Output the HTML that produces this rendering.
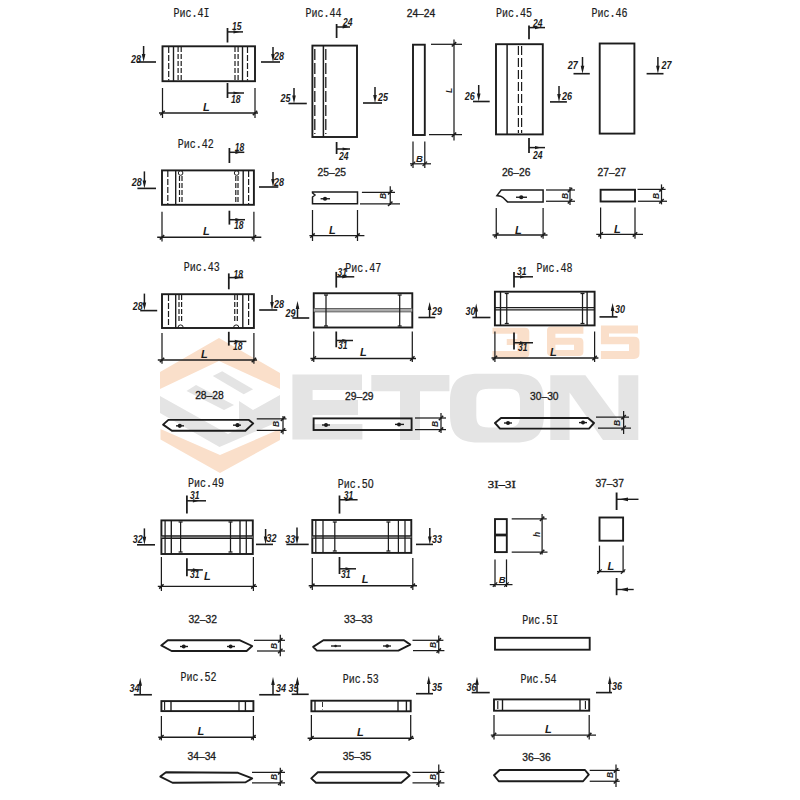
<!DOCTYPE html><html><head><meta charset="utf-8"><style>html,body{margin:0;padding:0;background:#fff;}svg{display:block}</style></head><body>
<svg width="800" height="800" viewBox="0 0 800 800">
<rect width="800" height="800" fill="#fff"/>
<polygon points="160,372 219,338 280,373 280,389 219,361 160,389" fill="#fadfca"/>
<polygon points="160.5,439.5 220,473 280,440 280,429 220,455 160.5,429" fill="#fadfca"/>
<polygon points="212.8,375.9 222.2,371.2 253.1,389.3 243.7,394.2" fill="#e4e4e4"/>
<polygon points="186.5,391 196,385 234,405 224,410" fill="#e4e4e4"/>
<polygon points="160,396 228,434 239,428 239,401 253,410 280,395 280,421 219.5,447 160,413" fill="#e4e4e4"/>
<path d="M292.4,374.6 H362 V390 H312.6 V400 H358 V415 H312.6 V424 H362.4 V439.5 H292.4 Z" fill="#e4e4e4"/>
<path d="M371.3,375 H449.4 V391.2 H420 V440 H400 V391.2 H371.3 Z" fill="#e4e4e4"/>
<path fill-rule="evenodd" d="M478,373.8 H516 C536,373.8 544,382 544,402 V414 C544,434 536,442.5 516,442.5 H478 C458,442.5 450,434 450,414 V402 C450,382 458,373.8 478,373.8 Z M489,388.8 H507 C517,388.8 520,392 520,401 V415 C520,424 517,427.5 507,427.5 H489 C479,427.5 476.3,424 476.3,415 V401 C476.3,392 479,388.8 489,388.8 Z" fill="#e4e4e4"/>
<path d="M550.3,375.3 H585.4 L618.4,420 V375.3 H638.3 V440 H603 L569.6,392.5 V440 H550.3 Z" fill="#e4e4e4"/>
<path d="M492.5,327.75 H525 Q529.3,327.75 529.3,332 V353.5 Q529.3,357.75 525,357.75 H492.5 V351 H517.3 V345 H506.75 V339 H517.3 V333.75 H492.5 Z" fill="#fadfca"/>
<path fill-rule="evenodd" d="M551,326.4 H583.4 V333.8 H555.4 V337.7 H579 Q583.4,337.7 583.4,342 V352 Q583.4,356 579,356 H551 Q547,356 547,352 V330.4 Q547,326.4 551,326.4 Z M555.4,344.7 V350 H574 V344.7 Z" fill="#fadfca"/>
<path d="M600.9,325.5 H638 V333.4 H609 V336.75 H634 Q639.5,336.75 639.5,342 V353.5 Q639.5,358.9 634,358.9 H600.9 V351 H629 V344.25 H600.9 Z" fill="#fadfca"/>
<text x="173.6" y="17" font-family="Liberation Mono" font-size="12.5" font-weight="normal" font-style="normal" text-anchor="start" fill="#1c1c1c" stroke="#1c1c1c" stroke-width="0.2" textLength="36" lengthAdjust="spacingAndGlyphs">Рис.4I</text>
<rect x="162.5" y="46.3" width="92.5" height="34.900000000000006" fill="none" stroke="#1c1c1c" stroke-width="1.9"/>
<line x1="168.7" y1="47" x2="168.7" y2="80.5" stroke="#1c1c1c" stroke-width="1.2" stroke-dasharray="6 2"/>
<line x1="173.5" y1="46.3" x2="173.5" y2="81.2" stroke="#1c1c1c" stroke-width="1.375"/>
<line x1="178.1" y1="47" x2="178.1" y2="80.5" stroke="#1c1c1c" stroke-width="1.2" stroke-dasharray="5 2"/>
<line x1="181.2" y1="47" x2="181.2" y2="80.5" stroke="#1c1c1c" stroke-width="1.2" stroke-dasharray="5 2"/>
<line x1="235" y1="47" x2="235" y2="80.5" stroke="#1c1c1c" stroke-width="1.2" stroke-dasharray="5 2"/>
<line x1="238.1" y1="47" x2="238.1" y2="80.5" stroke="#1c1c1c" stroke-width="1.2" stroke-dasharray="5 2"/>
<line x1="242.5" y1="46.3" x2="242.5" y2="81.2" stroke="#1c1c1c" stroke-width="1.375"/>
<line x1="247.5" y1="47" x2="247.5" y2="80.5" stroke="#1c1c1c" stroke-width="1.2" stroke-dasharray="6 2"/>
<line x1="227.5" y1="28" x2="227.5" y2="42.5" stroke="#1c1c1c" stroke-width="1.75"/>
<line x1="227.5" y1="31.9" x2="243" y2="31.9" stroke="#1c1c1c" stroke-width="1.5"/>
<polygon points="233.5,30.299999999999997 233.5,33.5 239.5,31.9" fill="#1c1c1c"/>
<text x="232" y="30" font-family="Liberation Sans" font-size="10" font-weight="bold" font-style="italic" text-anchor="start" fill="#1c1c1c" textLength="9.5" lengthAdjust="spacingAndGlyphs">15</text>
<line x1="227.5" y1="83" x2="227.5" y2="98" stroke="#1c1c1c" stroke-width="1.75"/>
<line x1="227.5" y1="93" x2="244" y2="93" stroke="#1c1c1c" stroke-width="1.5"/>
<polygon points="233.5,91.4 233.5,94.6 239.5,93" fill="#1c1c1c"/>
<text x="231" y="103" font-family="Liberation Sans" font-size="10" font-weight="bold" font-style="italic" text-anchor="start" fill="#1c1c1c" textLength="9.5" lengthAdjust="spacingAndGlyphs">18</text>
<line x1="143.6" y1="46" x2="143.6" y2="57" stroke="#1c1c1c" stroke-width="1.5"/>
<polygon points="141.79999999999998,54 145.4,54 143.6,62" fill="#1c1c1c"/>
<line x1="137" y1="62" x2="156" y2="62" stroke="#1c1c1c" stroke-width="1.625"/>
<text x="131" y="63" font-family="Liberation Sans" font-size="10.5" font-weight="bold" font-style="italic" text-anchor="start" fill="#1c1c1c" textLength="10" lengthAdjust="spacingAndGlyphs">28</text>
<line x1="273" y1="47" x2="273" y2="57" stroke="#1c1c1c" stroke-width="1.5"/>
<polygon points="271.2,54 274.8,54 273,62" fill="#1c1c1c"/>
<line x1="261" y1="62" x2="280" y2="62" stroke="#1c1c1c" stroke-width="1.625"/>
<text x="274" y="60" font-family="Liberation Sans" font-size="10.5" font-weight="bold" font-style="italic" text-anchor="start" fill="#1c1c1c" textLength="10" lengthAdjust="spacingAndGlyphs">28</text>
<line x1="159" y1="113" x2="258" y2="113" stroke="#1c1c1c" stroke-width="1.375"/>
<line x1="162.5" y1="88" x2="162.5" y2="118" stroke="#1c1c1c" stroke-width="1.25"/>
<line x1="255" y1="88" x2="255" y2="118" stroke="#1c1c1c" stroke-width="1.25"/>
<line x1="160.3" y1="115.2" x2="164.7" y2="110.8" stroke="#1c1c1c" stroke-width="1.5"/>
<line x1="252.8" y1="115.2" x2="257.2" y2="110.8" stroke="#1c1c1c" stroke-width="1.5"/>
<text x="203" y="111" font-family="Liberation Sans" font-size="11" font-weight="bold" font-style="italic" text-anchor="start" fill="#1c1c1c" >L</text>
<text x="305.6" y="17" font-family="Liberation Mono" font-size="12.5" font-weight="normal" font-style="normal" text-anchor="start" fill="#1c1c1c" stroke="#1c1c1c" stroke-width="0.2" textLength="36" lengthAdjust="spacingAndGlyphs">Рис.44</text>
<rect x="312.4" y="45.6" width="44.60000000000002" height="91.4" fill="none" stroke="#1c1c1c" stroke-width="1.9"/>
<line x1="314.8" y1="49" x2="314.8" y2="134" stroke="#1c1c1c" stroke-width="1.3" stroke-dasharray="11 3"/>
<line x1="323.4" y1="46" x2="323.4" y2="137" stroke="#1c1c1c" stroke-width="1.5"/>
<line x1="325.8" y1="49" x2="325.8" y2="134" stroke="#1c1c1c" stroke-width="1.3" stroke-dasharray="11 3"/>
<line x1="336.6" y1="24" x2="336.6" y2="38" stroke="#1c1c1c" stroke-width="1.75"/>
<line x1="336.6" y1="27" x2="350" y2="27" stroke="#1c1c1c" stroke-width="1.5"/>
<polygon points="342.6,25.4 342.6,28.6 348.6,27" fill="#1c1c1c"/>
<text x="343" y="26" font-family="Liberation Sans" font-size="10" font-weight="bold" font-style="italic" text-anchor="start" fill="#1c1c1c" textLength="9.5" lengthAdjust="spacingAndGlyphs">24</text>
<line x1="336.6" y1="142" x2="336.6" y2="154" stroke="#1c1c1c" stroke-width="1.75"/>
<line x1="336.6" y1="149" x2="350" y2="149" stroke="#1c1c1c" stroke-width="1.5"/>
<polygon points="342.6,147.4 342.6,150.6 348.6,149" fill="#1c1c1c"/>
<text x="339" y="160" font-family="Liberation Sans" font-size="10" font-weight="bold" font-style="italic" text-anchor="start" fill="#1c1c1c" textLength="9.5" lengthAdjust="spacingAndGlyphs">24</text>
<line x1="294" y1="88" x2="294" y2="98.5" stroke="#1c1c1c" stroke-width="1.5"/>
<polygon points="292.2,95.5 295.8,95.5 294,103.5" fill="#1c1c1c"/>
<line x1="288.4" y1="103.5" x2="306.8" y2="103.5" stroke="#1c1c1c" stroke-width="1.625"/>
<text x="280.5" y="102" font-family="Liberation Sans" font-size="10.5" font-weight="bold" font-style="italic" text-anchor="start" fill="#1c1c1c" textLength="10" lengthAdjust="spacingAndGlyphs">25</text>
<line x1="375" y1="87" x2="375" y2="98" stroke="#1c1c1c" stroke-width="1.5"/>
<polygon points="373.2,95 376.8,95 375,103" fill="#1c1c1c"/>
<line x1="363" y1="103" x2="382" y2="103" stroke="#1c1c1c" stroke-width="1.625"/>
<text x="378" y="101" font-family="Liberation Sans" font-size="10.5" font-weight="bold" font-style="italic" text-anchor="start" fill="#1c1c1c" textLength="10" lengthAdjust="spacingAndGlyphs">25</text>
<text x="406.7" y="17" font-family="Liberation Sans" font-size="10.290000000000001" font-weight="normal" font-style="normal" text-anchor="start" fill="#1c1c1c" stroke="#1c1c1c" stroke-width="0.3">24–24</text>
<rect x="413" y="44.7" width="11.800000000000011" height="90.3" fill="none" stroke="#1c1c1c" stroke-width="1.9"/>
<line x1="454" y1="39.4" x2="454" y2="140.4" stroke="#1c1c1c" stroke-width="1.25"/>
<line x1="431" y1="44.3" x2="462" y2="44.3" stroke="#1c1c1c" stroke-width="1.25"/>
<line x1="429" y1="134.7" x2="462" y2="134.7" stroke="#1c1c1c" stroke-width="1.25"/>
<line x1="451.8" y1="46.5" x2="456.2" y2="42.099999999999994" stroke="#1c1c1c" stroke-width="1.5"/>
<line x1="451.8" y1="136.89999999999998" x2="456.2" y2="132.5" stroke="#1c1c1c" stroke-width="1.5"/>
<text x="452" y="93" font-family="Liberation Sans" font-size="8.5" font-weight="bold" font-style="italic" text-anchor="start" fill="#1c1c1c" transform="rotate(-90 452 93)">L</text>
<line x1="413" y1="141.5" x2="413" y2="168" stroke="#1c1c1c" stroke-width="1.25"/>
<line x1="424.8" y1="141.5" x2="424.8" y2="168" stroke="#1c1c1c" stroke-width="1.25"/>
<line x1="410" y1="163.8" x2="431" y2="163.8" stroke="#1c1c1c" stroke-width="1.25"/>
<line x1="410.8" y1="166.0" x2="415.2" y2="161.60000000000002" stroke="#1c1c1c" stroke-width="1.25"/>
<line x1="422.6" y1="166.0" x2="427.0" y2="161.60000000000002" stroke="#1c1c1c" stroke-width="1.25"/>
<text x="416" y="162" font-family="Liberation Sans" font-size="9.5" font-weight="bold" font-style="italic" text-anchor="start" fill="#1c1c1c" >B</text>
<text x="496" y="17" font-family="Liberation Mono" font-size="12.5" font-weight="normal" font-style="normal" text-anchor="start" fill="#1c1c1c" stroke="#1c1c1c" stroke-width="0.2" textLength="36" lengthAdjust="spacingAndGlyphs">Рис.45</text>
<rect x="496" y="44.2" width="46.799999999999955" height="90.2" fill="none" stroke="#1c1c1c" stroke-width="1.9"/>
<line x1="507.1" y1="44.2" x2="507.1" y2="134.4" stroke="#1c1c1c" stroke-width="1.5"/>
<line x1="518.4" y1="46" x2="518.4" y2="133" stroke="#1c1c1c" stroke-width="1.2" stroke-dasharray="9 3"/>
<line x1="521.6" y1="46" x2="521.6" y2="133" stroke="#1c1c1c" stroke-width="1.2" stroke-dasharray="9 3"/>
<line x1="529" y1="25.5" x2="529" y2="39.3" stroke="#1c1c1c" stroke-width="1.75"/>
<line x1="529" y1="27.6" x2="545" y2="27.6" stroke="#1c1c1c" stroke-width="1.5"/>
<polygon points="535,26.0 535,29.200000000000003 541,27.6" fill="#1c1c1c"/>
<text x="533" y="26.5" font-family="Liberation Sans" font-size="10" font-weight="bold" font-style="italic" text-anchor="start" fill="#1c1c1c" textLength="9.5" lengthAdjust="spacingAndGlyphs">24</text>
<line x1="529" y1="138" x2="529" y2="153" stroke="#1c1c1c" stroke-width="1.75"/>
<line x1="529" y1="147.6" x2="545" y2="147.6" stroke="#1c1c1c" stroke-width="1.5"/>
<polygon points="535,146.0 535,149.2 541,147.6" fill="#1c1c1c"/>
<text x="533" y="159" font-family="Liberation Sans" font-size="10" font-weight="bold" font-style="italic" text-anchor="start" fill="#1c1c1c" textLength="9.5" lengthAdjust="spacingAndGlyphs">24</text>
<line x1="478.7" y1="85" x2="478.7" y2="96.5" stroke="#1c1c1c" stroke-width="1.5"/>
<polygon points="476.9,93.5 480.5,93.5 478.7,101.5" fill="#1c1c1c"/>
<line x1="473" y1="101.5" x2="489.7" y2="101.5" stroke="#1c1c1c" stroke-width="1.625"/>
<text x="464.7" y="100" font-family="Liberation Sans" font-size="10.5" font-weight="bold" font-style="italic" text-anchor="start" fill="#1c1c1c" textLength="10" lengthAdjust="spacingAndGlyphs">26</text>
<line x1="559" y1="86" x2="559" y2="96.9" stroke="#1c1c1c" stroke-width="1.5"/>
<polygon points="557.2,93.9 560.8,93.9 559,101.9" fill="#1c1c1c"/>
<line x1="550" y1="101.9" x2="566.9" y2="101.9" stroke="#1c1c1c" stroke-width="1.625"/>
<text x="562" y="100" font-family="Liberation Sans" font-size="10.5" font-weight="bold" font-style="italic" text-anchor="start" fill="#1c1c1c" textLength="10" lengthAdjust="spacingAndGlyphs">26</text>
<text x="591.6" y="17" font-family="Liberation Mono" font-size="12.5" font-weight="normal" font-style="normal" text-anchor="start" fill="#1c1c1c" stroke="#1c1c1c" stroke-width="0.2" textLength="36" lengthAdjust="spacingAndGlyphs">Рис.46</text>
<rect x="599.7" y="43.5" width="34.69999999999993" height="90.1" fill="none" stroke="#1c1c1c" stroke-width="1.9"/>
<line x1="582.5" y1="57" x2="582.5" y2="68.7" stroke="#1c1c1c" stroke-width="1.5"/>
<polygon points="580.7,65.7 584.3,65.7 582.5,73.7" fill="#1c1c1c"/>
<line x1="573.5" y1="73.7" x2="589.8" y2="73.7" stroke="#1c1c1c" stroke-width="1.625"/>
<text x="567.8" y="69.4" font-family="Liberation Sans" font-size="10.5" font-weight="bold" font-style="italic" text-anchor="start" fill="#1c1c1c" textLength="10" lengthAdjust="spacingAndGlyphs">27</text>
<line x1="657.9" y1="57" x2="657.9" y2="68.7" stroke="#1c1c1c" stroke-width="1.5"/>
<polygon points="656.1,65.7 659.6999999999999,65.7 657.9,73.7" fill="#1c1c1c"/>
<line x1="646.6" y1="73.7" x2="663.5" y2="73.7" stroke="#1c1c1c" stroke-width="1.625"/>
<text x="661.6" y="68.5" font-family="Liberation Sans" font-size="10.5" font-weight="bold" font-style="italic" text-anchor="start" fill="#1c1c1c" textLength="10" lengthAdjust="spacingAndGlyphs">27</text>
<text x="177.8" y="148" font-family="Liberation Mono" font-size="12.5" font-weight="normal" font-style="normal" text-anchor="start" fill="#1c1c1c" stroke="#1c1c1c" stroke-width="0.2" textLength="36" lengthAdjust="spacingAndGlyphs">Рис.42</text>
<rect x="162" y="170.4" width="91.9" height="34.400000000000006" fill="none" stroke="#1c1c1c" stroke-width="1.9"/>
<line x1="167.8" y1="171" x2="167.8" y2="204" stroke="#1c1c1c" stroke-width="1.2" stroke-dasharray="6 2"/>
<line x1="175.7" y1="170.4" x2="175.7" y2="204.8" stroke="#1c1c1c" stroke-width="1.375"/>
<line x1="179.5" y1="176" x2="179.5" y2="204" stroke="#1c1c1c" stroke-width="1.2" stroke-dasharray="5 2"/>
<line x1="182" y1="176" x2="182" y2="204" stroke="#1c1c1c" stroke-width="1.2" stroke-dasharray="5 2"/>
<circle cx="180.6" cy="173" r="2.3" fill="none" stroke="#1c1c1c" stroke-width="1"/>
<line x1="235.8" y1="176" x2="235.8" y2="204" stroke="#1c1c1c" stroke-width="1.2" stroke-dasharray="5 2"/>
<line x1="238" y1="176" x2="238" y2="204" stroke="#1c1c1c" stroke-width="1.2" stroke-dasharray="5 2"/>
<circle cx="236.6" cy="173" r="2.3" fill="none" stroke="#1c1c1c" stroke-width="1"/>
<line x1="243.2" y1="170.4" x2="243.2" y2="204.8" stroke="#1c1c1c" stroke-width="1.375"/>
<line x1="248.6" y1="171" x2="248.6" y2="204" stroke="#1c1c1c" stroke-width="1.2" stroke-dasharray="6 2"/>
<line x1="229.4" y1="148" x2="229.4" y2="163" stroke="#1c1c1c" stroke-width="1.75"/>
<line x1="229.4" y1="152.3" x2="244.3" y2="152.3" stroke="#1c1c1c" stroke-width="1.5"/>
<polygon points="235.4,150.70000000000002 235.4,153.9 241.4,152.3" fill="#1c1c1c"/>
<text x="234.7" y="151" font-family="Liberation Sans" font-size="10" font-weight="bold" font-style="italic" text-anchor="start" fill="#1c1c1c" textLength="9.5" lengthAdjust="spacingAndGlyphs">18</text>
<line x1="229.4" y1="210.7" x2="229.4" y2="224.6" stroke="#1c1c1c" stroke-width="1.75"/>
<line x1="229.4" y1="219.7" x2="245" y2="219.7" stroke="#1c1c1c" stroke-width="1.5"/>
<polygon points="235.4,218.1 235.4,221.29999999999998 241.4,219.7" fill="#1c1c1c"/>
<text x="234" y="228.5" font-family="Liberation Sans" font-size="10" font-weight="bold" font-style="italic" text-anchor="start" fill="#1c1c1c" textLength="9.5" lengthAdjust="spacingAndGlyphs">18</text>
<line x1="144.4" y1="171.4" x2="144.4" y2="183.4" stroke="#1c1c1c" stroke-width="1.5"/>
<polygon points="142.6,180.4 146.20000000000002,180.4 144.4,188.4" fill="#1c1c1c"/>
<line x1="137.4" y1="188.4" x2="156" y2="188.4" stroke="#1c1c1c" stroke-width="1.625"/>
<text x="131.7" y="186.3" font-family="Liberation Sans" font-size="10.5" font-weight="bold" font-style="italic" text-anchor="start" fill="#1c1c1c" textLength="10" lengthAdjust="spacingAndGlyphs">28</text>
<line x1="273" y1="172" x2="273" y2="182" stroke="#1c1c1c" stroke-width="1.5"/>
<polygon points="271.2,179 274.8,179 273,187" fill="#1c1c1c"/>
<line x1="259" y1="187" x2="278.3" y2="187" stroke="#1c1c1c" stroke-width="1.625"/>
<text x="274" y="186" font-family="Liberation Sans" font-size="10.5" font-weight="bold" font-style="italic" text-anchor="start" fill="#1c1c1c" textLength="10" lengthAdjust="spacingAndGlyphs">28</text>
<line x1="157.2" y1="237.3" x2="261.3" y2="237.3" stroke="#1c1c1c" stroke-width="1.375"/>
<line x1="162" y1="211.8" x2="162" y2="241.6" stroke="#1c1c1c" stroke-width="1.25"/>
<line x1="253.9" y1="211.8" x2="253.9" y2="241.6" stroke="#1c1c1c" stroke-width="1.25"/>
<line x1="159.8" y1="239.5" x2="164.2" y2="235.10000000000002" stroke="#1c1c1c" stroke-width="1.5"/>
<line x1="251.70000000000002" y1="239.5" x2="256.1" y2="235.10000000000002" stroke="#1c1c1c" stroke-width="1.5"/>
<text x="203" y="235" font-family="Liberation Sans" font-size="11" font-weight="bold" font-style="italic" text-anchor="start" fill="#1c1c1c" >L</text>
<text x="317.5" y="175.5" font-family="Liberation Sans" font-size="10.290000000000001" font-weight="normal" font-style="normal" text-anchor="start" fill="#1c1c1c" stroke="#1c1c1c" stroke-width="0.3">25–25</text>
<path d="M312.5,191.9 H357.5 V203.75 H312.5 V197 L315,195 L312.5,193 Z" fill="none" stroke="#1c1c1c" stroke-width="1.5"/>
<line x1="320.6" y1="198.75" x2="330" y2="198.75" stroke="#1c1c1c" stroke-width="1.375"/>
<circle cx="325" cy="198.75" r="2.1" fill="#1c1c1c"/>
<line x1="390.25" y1="186.25" x2="390.25" y2="205" stroke="#1c1c1c" stroke-width="1.25"/>
<line x1="361.9" y1="192.25" x2="395" y2="192.25" stroke="#1c1c1c" stroke-width="1.25"/>
<line x1="360" y1="203.75" x2="400" y2="203.75" stroke="#1c1c1c" stroke-width="1.25"/>
<line x1="388.05" y1="194.45" x2="392.45" y2="190.05" stroke="#1c1c1c" stroke-width="1.5"/>
<line x1="388.05" y1="205.95" x2="392.45" y2="201.55" stroke="#1c1c1c" stroke-width="1.5"/>
<text x="386" y="199" font-family="Liberation Sans" font-size="8.5" font-weight="bold" font-style="italic" text-anchor="start" fill="#1c1c1c" transform="rotate(-90 386 199)">B</text>
<line x1="309.4" y1="235.6" x2="364.4" y2="235.6" stroke="#1c1c1c" stroke-width="1.375"/>
<line x1="312.5" y1="210" x2="312.5" y2="241" stroke="#1c1c1c" stroke-width="1.25"/>
<line x1="357.5" y1="210" x2="357.5" y2="241" stroke="#1c1c1c" stroke-width="1.25"/>
<line x1="310.3" y1="237.79999999999998" x2="314.7" y2="233.4" stroke="#1c1c1c" stroke-width="1.5"/>
<line x1="355.3" y1="237.79999999999998" x2="359.7" y2="233.4" stroke="#1c1c1c" stroke-width="1.5"/>
<text x="329" y="233.5" font-family="Liberation Sans" font-size="11" font-weight="bold" font-style="italic" text-anchor="start" fill="#1c1c1c" >L</text>
<text x="501.9" y="175.5" font-family="Liberation Sans" font-size="10.290000000000001" font-weight="normal" font-style="normal" text-anchor="start" fill="#1c1c1c" stroke="#1c1c1c" stroke-width="0.3">26–26</text>
<path d="M501.25,190 H543.1 V201.9 H507.5 L503,197.5 L500.6,196.2 L496.9,195.6 Z" fill="none" stroke="#1c1c1c" stroke-width="1.5"/>
<line x1="516" y1="197.25" x2="527" y2="197.25" stroke="#1c1c1c" stroke-width="1.375"/>
<circle cx="521.25" cy="197.25" r="2.1" fill="#1c1c1c"/>
<line x1="570" y1="186.9" x2="570" y2="205" stroke="#1c1c1c" stroke-width="1.25"/>
<line x1="546" y1="190" x2="575" y2="190" stroke="#1c1c1c" stroke-width="1.25"/>
<line x1="546" y1="201.25" x2="575" y2="201.25" stroke="#1c1c1c" stroke-width="1.25"/>
<line x1="567.8" y1="192.2" x2="572.2" y2="187.8" stroke="#1c1c1c" stroke-width="1.5"/>
<line x1="567.8" y1="203.45" x2="572.2" y2="199.05" stroke="#1c1c1c" stroke-width="1.5"/>
<text x="568" y="199" font-family="Liberation Sans" font-size="8.5" font-weight="bold" font-style="italic" text-anchor="start" fill="#1c1c1c" transform="rotate(-90 568 199)">B</text>
<line x1="492.5" y1="235" x2="547.5" y2="235" stroke="#1c1c1c" stroke-width="1.375"/>
<line x1="496.25" y1="208" x2="496.25" y2="238.75" stroke="#1c1c1c" stroke-width="1.25"/>
<line x1="543.1" y1="208" x2="543.1" y2="238.75" stroke="#1c1c1c" stroke-width="1.25"/>
<line x1="494.05" y1="237.2" x2="498.45" y2="232.8" stroke="#1c1c1c" stroke-width="1.5"/>
<line x1="540.9" y1="237.2" x2="545.3000000000001" y2="232.8" stroke="#1c1c1c" stroke-width="1.5"/>
<text x="515" y="233.5" font-family="Liberation Sans" font-size="11" font-weight="bold" font-style="italic" text-anchor="start" fill="#1c1c1c" >L</text>
<text x="597.5" y="175.5" font-family="Liberation Sans" font-size="10.290000000000001" font-weight="normal" font-style="normal" text-anchor="start" fill="#1c1c1c" stroke="#1c1c1c" stroke-width="0.3">27–27</text>
<rect x="600.6" y="189.75" width="34.39999999999998" height="11.75" fill="none" stroke="#1c1c1c" stroke-width="1.9"/>
<line x1="661.5" y1="184.4" x2="661.5" y2="204.4" stroke="#1c1c1c" stroke-width="1.25"/>
<line x1="637.5" y1="189.4" x2="665.6" y2="189.4" stroke="#1c1c1c" stroke-width="1.25"/>
<line x1="638" y1="201.25" x2="667" y2="201.25" stroke="#1c1c1c" stroke-width="1.25"/>
<line x1="659.3" y1="191.6" x2="663.7" y2="187.20000000000002" stroke="#1c1c1c" stroke-width="1.5"/>
<line x1="659.3" y1="203.45" x2="663.7" y2="199.05" stroke="#1c1c1c" stroke-width="1.5"/>
<text x="659" y="199" font-family="Liberation Sans" font-size="8.5" font-weight="bold" font-style="italic" text-anchor="start" fill="#1c1c1c" transform="rotate(-90 659 199)">B</text>
<line x1="596.25" y1="234.4" x2="643" y2="234.4" stroke="#1c1c1c" stroke-width="1.375"/>
<line x1="600.6" y1="207.5" x2="600.6" y2="238.75" stroke="#1c1c1c" stroke-width="1.25"/>
<line x1="635" y1="207.5" x2="635" y2="238.75" stroke="#1c1c1c" stroke-width="1.25"/>
<line x1="598.4" y1="236.6" x2="602.8000000000001" y2="232.20000000000002" stroke="#1c1c1c" stroke-width="1.5"/>
<line x1="632.8" y1="236.6" x2="637.2" y2="232.20000000000002" stroke="#1c1c1c" stroke-width="1.5"/>
<text x="614" y="232.5" font-family="Liberation Sans" font-size="11" font-weight="bold" font-style="italic" text-anchor="start" fill="#1c1c1c" >L</text>
<text x="183.75" y="271.25" font-family="Liberation Mono" font-size="12.5" font-weight="normal" font-style="normal" text-anchor="start" fill="#1c1c1c" stroke="#1c1c1c" stroke-width="0.2" textLength="36" lengthAdjust="spacingAndGlyphs">Рис.43</text>
<rect x="162" y="294.2" width="91.9" height="33.80000000000001" fill="none" stroke="#1c1c1c" stroke-width="1.9"/>
<line x1="168.5" y1="295" x2="168.5" y2="327" stroke="#1c1c1c" stroke-width="1.2" stroke-dasharray="6 2"/>
<line x1="175.7" y1="294.2" x2="175.7" y2="328" stroke="#1c1c1c" stroke-width="1.375"/>
<line x1="179" y1="295" x2="179" y2="322" stroke="#1c1c1c" stroke-width="1.2" stroke-dasharray="5 2"/>
<line x1="181.6" y1="295" x2="181.6" y2="322" stroke="#1c1c1c" stroke-width="1.2" stroke-dasharray="5 2"/>
<path d="M178,327.5 A2.6,2.6 0 0 1 183.2,327.5" fill="none" stroke="#1c1c1c" stroke-width="1"/>
<line x1="234.75" y1="295" x2="234.75" y2="322" stroke="#1c1c1c" stroke-width="1.2" stroke-dasharray="5 2"/>
<line x1="237.3" y1="295" x2="237.3" y2="322" stroke="#1c1c1c" stroke-width="1.2" stroke-dasharray="5 2"/>
<path d="M233.6,327.5 A2.6,2.6 0 0 1 238.8,327.5" fill="none" stroke="#1c1c1c" stroke-width="1"/>
<line x1="242.8" y1="294.2" x2="242.8" y2="328" stroke="#1c1c1c" stroke-width="1.375"/>
<line x1="248.6" y1="295" x2="248.6" y2="327" stroke="#1c1c1c" stroke-width="1.2" stroke-dasharray="6 2"/>
<line x1="228.8" y1="273.4" x2="228.8" y2="289.3" stroke="#1c1c1c" stroke-width="1.75"/>
<line x1="228.8" y1="277.6" x2="243.25" y2="277.6" stroke="#1c1c1c" stroke-width="1.5"/>
<polygon points="234.8,276.0 234.8,279.20000000000005 240.8,277.6" fill="#1c1c1c"/>
<text x="233.5" y="277.6" font-family="Liberation Sans" font-size="10" font-weight="bold" font-style="italic" text-anchor="start" fill="#1c1c1c" textLength="9.5" lengthAdjust="spacingAndGlyphs">18</text>
<line x1="228.8" y1="331.8" x2="228.8" y2="345.6" stroke="#1c1c1c" stroke-width="1.75"/>
<line x1="228.8" y1="341.4" x2="246.4" y2="341.4" stroke="#1c1c1c" stroke-width="1.5"/>
<polygon points="234.8,339.79999999999995 234.8,343.0 240.8,341.4" fill="#1c1c1c"/>
<text x="233" y="350" font-family="Liberation Sans" font-size="10" font-weight="bold" font-style="italic" text-anchor="start" fill="#1c1c1c" textLength="9.5" lengthAdjust="spacingAndGlyphs">18</text>
<line x1="144.4" y1="293.6" x2="144.4" y2="305.6" stroke="#1c1c1c" stroke-width="1.5"/>
<polygon points="142.6,302.6 146.20000000000002,302.6 144.4,310.6" fill="#1c1c1c"/>
<line x1="140.2" y1="310.6" x2="157.2" y2="310.6" stroke="#1c1c1c" stroke-width="1.625"/>
<text x="132.75" y="309.5" font-family="Liberation Sans" font-size="10.5" font-weight="bold" font-style="italic" text-anchor="start" fill="#1c1c1c" textLength="10" lengthAdjust="spacingAndGlyphs">28</text>
<line x1="272" y1="295" x2="272" y2="305" stroke="#1c1c1c" stroke-width="1.5"/>
<polygon points="270.2,302 273.8,302 272,310" fill="#1c1c1c"/>
<line x1="259.2" y1="310" x2="277.25" y2="310" stroke="#1c1c1c" stroke-width="1.625"/>
<text x="274" y="308" font-family="Liberation Sans" font-size="10.5" font-weight="bold" font-style="italic" text-anchor="start" fill="#1c1c1c" textLength="10" lengthAdjust="spacingAndGlyphs">28</text>
<line x1="157.8" y1="360" x2="257" y2="360" stroke="#1c1c1c" stroke-width="1.375"/>
<line x1="162" y1="332.9" x2="162" y2="363.7" stroke="#1c1c1c" stroke-width="1.25"/>
<line x1="253.9" y1="332.9" x2="253.9" y2="363.7" stroke="#1c1c1c" stroke-width="1.25"/>
<line x1="159.8" y1="362.2" x2="164.2" y2="357.8" stroke="#1c1c1c" stroke-width="1.5"/>
<line x1="251.70000000000002" y1="362.2" x2="256.1" y2="357.8" stroke="#1c1c1c" stroke-width="1.5"/>
<text x="201" y="357.5" font-family="Liberation Sans" font-size="11" font-weight="bold" font-style="italic" text-anchor="start" fill="#1c1c1c" >L</text>
<text x="345.25" y="271.9" font-family="Liberation Mono" font-size="12.5" font-weight="normal" font-style="normal" text-anchor="start" fill="#1c1c1c" stroke="#1c1c1c" stroke-width="0.2" textLength="36" lengthAdjust="spacingAndGlyphs">Рис.47</text>
<rect x="313.75" y="293.25" width="98.55000000000001" height="34.25" fill="none" stroke="#1c1c1c" stroke-width="1.9"/>
<line x1="313.75" y1="308.5" x2="412.3" y2="308.5" stroke="#1c1c1c" stroke-width="1.25"/>
<line x1="313.75" y1="311.7" x2="412.3" y2="311.7" stroke="#1c1c1c" stroke-width="1.25"/>
<rect x="313.75" y="308.5" width="98.5" height="3.2" fill="#aaa"/>
<line x1="326" y1="295" x2="326" y2="326" stroke="#1c1c1c" stroke-width="1.25"/>
<line x1="324" y1="295" x2="328" y2="295" stroke="#1c1c1c" stroke-width="1.25"/>
<line x1="324" y1="326" x2="328" y2="326" stroke="#1c1c1c" stroke-width="1.25"/>
<line x1="399.7" y1="295" x2="399.7" y2="326" stroke="#1c1c1c" stroke-width="1.25"/>
<line x1="397.7" y1="295" x2="401.7" y2="295" stroke="#1c1c1c" stroke-width="1.25"/>
<line x1="397.7" y1="326" x2="401.7" y2="326" stroke="#1c1c1c" stroke-width="1.25"/>
<line x1="336.25" y1="271.9" x2="336.25" y2="287.6" stroke="#1c1c1c" stroke-width="1.75"/>
<line x1="336.25" y1="276.8" x2="354.25" y2="276.8" stroke="#1c1c1c" stroke-width="1.5"/>
<polygon points="342.25,275.2 342.25,278.40000000000003 348.25,276.8" fill="#1c1c1c"/>
<text x="337.4" y="276" font-family="Liberation Sans" font-size="10" font-weight="bold" font-style="italic" text-anchor="start" fill="#1c1c1c" textLength="9.5" lengthAdjust="spacingAndGlyphs">31</text>
<line x1="336.25" y1="331.5" x2="336.25" y2="347.25" stroke="#1c1c1c" stroke-width="1.75"/>
<line x1="336.25" y1="340.5" x2="353" y2="340.5" stroke="#1c1c1c" stroke-width="1.5"/>
<polygon points="342.25,338.9 342.25,342.1 348.25,340.5" fill="#1c1c1c"/>
<text x="338" y="349" font-family="Liberation Sans" font-size="10" font-weight="bold" font-style="italic" text-anchor="start" fill="#1c1c1c" textLength="9.5" lengthAdjust="spacingAndGlyphs">31</text>
<line x1="297.5" y1="306" x2="297.5" y2="318" stroke="#1c1c1c" stroke-width="1.5"/>
<polygon points="295.7,309 299.3,309 297.5,301" fill="#1c1c1c"/>
<line x1="292.4" y1="318" x2="309.25" y2="318" stroke="#1c1c1c" stroke-width="1.625"/>
<text x="285.6" y="317" font-family="Liberation Sans" font-size="10.5" font-weight="bold" font-style="italic" text-anchor="start" fill="#1c1c1c" textLength="10" lengthAdjust="spacingAndGlyphs">29</text>
<line x1="429.6" y1="307" x2="429.6" y2="317.5" stroke="#1c1c1c" stroke-width="1.5"/>
<polygon points="427.8,310 431.40000000000003,310 429.6,302" fill="#1c1c1c"/>
<line x1="418.4" y1="317.5" x2="435.25" y2="317.5" stroke="#1c1c1c" stroke-width="1.625"/>
<text x="432" y="315" font-family="Liberation Sans" font-size="10.5" font-weight="bold" font-style="italic" text-anchor="start" fill="#1c1c1c" textLength="10" lengthAdjust="spacingAndGlyphs">29</text>
<line x1="310.4" y1="358.5" x2="416" y2="358.5" stroke="#1c1c1c" stroke-width="1.375"/>
<line x1="313.75" y1="331.5" x2="313.75" y2="362" stroke="#1c1c1c" stroke-width="1.25"/>
<line x1="412.3" y1="331.5" x2="412.3" y2="362" stroke="#1c1c1c" stroke-width="1.25"/>
<line x1="311.55" y1="360.7" x2="315.95" y2="356.3" stroke="#1c1c1c" stroke-width="1.5"/>
<line x1="410.1" y1="360.7" x2="414.5" y2="356.3" stroke="#1c1c1c" stroke-width="1.5"/>
<text x="360" y="356" font-family="Liberation Sans" font-size="11" font-weight="bold" font-style="italic" text-anchor="start" fill="#1c1c1c" >L</text>
<text x="536.5" y="272" font-family="Liberation Mono" font-size="12.5" font-weight="normal" font-style="normal" text-anchor="start" fill="#1c1c1c" stroke="#1c1c1c" stroke-width="0.2" textLength="36" lengthAdjust="spacingAndGlyphs">Рис.48</text>
<rect x="494.9" y="291.7" width="99.70000000000005" height="33.69999999999999" fill="none" stroke="#1c1c1c" stroke-width="1.9"/>
<line x1="500.5" y1="291.7" x2="500.5" y2="325.4" stroke="#1c1c1c" stroke-width="1.375"/>
<line x1="587.1" y1="291.7" x2="587.1" y2="325.4" stroke="#1c1c1c" stroke-width="1.375"/>
<line x1="506.75" y1="293.5" x2="506.75" y2="323.5" stroke="#1c1c1c" stroke-width="1.25"/>
<line x1="504.75" y1="293.5" x2="508.75" y2="293.5" stroke="#1c1c1c" stroke-width="1.25"/>
<line x1="504.75" y1="323.5" x2="508.75" y2="323.5" stroke="#1c1c1c" stroke-width="1.25"/>
<line x1="582.5" y1="293.5" x2="582.5" y2="323.5" stroke="#1c1c1c" stroke-width="1.25"/>
<line x1="580.5" y1="293.5" x2="584.5" y2="293.5" stroke="#1c1c1c" stroke-width="1.25"/>
<line x1="580.5" y1="323.5" x2="584.5" y2="323.5" stroke="#1c1c1c" stroke-width="1.25"/>
<line x1="494.9" y1="307.5" x2="594.6" y2="307.5" stroke="#1c1c1c" stroke-width="1.25"/>
<line x1="494.9" y1="309.9" x2="594.6" y2="309.9" stroke="#1c1c1c" stroke-width="1.25"/>
<line x1="514" y1="272" x2="514" y2="287.6" stroke="#1c1c1c" stroke-width="1.75"/>
<line x1="514" y1="276.8" x2="533" y2="276.8" stroke="#1c1c1c" stroke-width="1.5"/>
<polygon points="520,275.2 520,278.40000000000003 526,276.8" fill="#1c1c1c"/>
<text x="517" y="275" font-family="Liberation Sans" font-size="10" font-weight="bold" font-style="italic" text-anchor="start" fill="#1c1c1c" textLength="9.5" lengthAdjust="spacingAndGlyphs">31</text>
<line x1="514" y1="332.6" x2="514" y2="349.5" stroke="#1c1c1c" stroke-width="1.75"/>
<line x1="514" y1="342.75" x2="533" y2="342.75" stroke="#1c1c1c" stroke-width="1.5"/>
<polygon points="520,341.15 520,344.35 526,342.75" fill="#1c1c1c"/>
<text x="518" y="351" font-family="Liberation Sans" font-size="10" font-weight="bold" font-style="italic" text-anchor="start" fill="#1c1c1c" textLength="9.5" lengthAdjust="spacingAndGlyphs">31</text>
<line x1="476.2" y1="308.4" x2="476.2" y2="317.5" stroke="#1c1c1c" stroke-width="1.5"/>
<polygon points="474.4,311.4 478.0,311.4 476.2,303.4" fill="#1c1c1c"/>
<line x1="472.4" y1="317.5" x2="490.4" y2="317.5" stroke="#1c1c1c" stroke-width="1.625"/>
<text x="465.6" y="315" font-family="Liberation Sans" font-size="10.5" font-weight="bold" font-style="italic" text-anchor="start" fill="#1c1c1c" textLength="10" lengthAdjust="spacingAndGlyphs">30</text>
<line x1="612.6" y1="308" x2="612.6" y2="316.9" stroke="#1c1c1c" stroke-width="1.5"/>
<polygon points="610.8000000000001,311 614.4,311 612.6,303" fill="#1c1c1c"/>
<line x1="599.5" y1="316.9" x2="617.5" y2="316.9" stroke="#1c1c1c" stroke-width="1.625"/>
<text x="615" y="313" font-family="Liberation Sans" font-size="10.5" font-weight="bold" font-style="italic" text-anchor="start" fill="#1c1c1c" textLength="10" lengthAdjust="spacingAndGlyphs">30</text>
<line x1="491.5" y1="358" x2="598.4" y2="358" stroke="#1c1c1c" stroke-width="1.375"/>
<line x1="494.9" y1="331.5" x2="494.9" y2="362" stroke="#1c1c1c" stroke-width="1.25"/>
<line x1="594.6" y1="331.5" x2="594.6" y2="362" stroke="#1c1c1c" stroke-width="1.25"/>
<line x1="492.7" y1="360.2" x2="497.09999999999997" y2="355.8" stroke="#1c1c1c" stroke-width="1.5"/>
<line x1="592.4" y1="360.2" x2="596.8000000000001" y2="355.8" stroke="#1c1c1c" stroke-width="1.5"/>
<text x="550" y="356" font-family="Liberation Sans" font-size="11" font-weight="bold" font-style="italic" text-anchor="start" fill="#1c1c1c" >L</text>
<text x="195.15" y="399.25" font-family="Liberation Sans" font-size="10.290000000000001" font-weight="normal" font-style="normal" text-anchor="start" fill="#1c1c1c" stroke="#1c1c1c" stroke-width="0.3">28–28</text>
<polygon points="163.1,424.6 168.4,419.9 248.9,419.9 253.25,423.4 245.4,430.75 171.9,430.75" fill="none" stroke="#1c1c1c" stroke-width="1.9" stroke-linejoin="round"/>
<line x1="176" y1="425.85" x2="184" y2="425.85" stroke="#1c1c1c" stroke-width="1.375"/>
<circle cx="179.75" cy="425.85" r="2.1" fill="#1c1c1c"/>
<line x1="233" y1="425.15" x2="241" y2="425.15" stroke="#1c1c1c" stroke-width="1.375"/>
<circle cx="237.5" cy="425.15" r="2.1" fill="#1c1c1c"/>
<line x1="283" y1="415.9" x2="283" y2="434.25" stroke="#1c1c1c" stroke-width="1.25"/>
<line x1="256.75" y1="418.85" x2="286.5" y2="418.85" stroke="#1c1c1c" stroke-width="1.25"/>
<line x1="256.75" y1="430.4" x2="286.5" y2="430.4" stroke="#1c1c1c" stroke-width="1.25"/>
<line x1="280.8" y1="421.05" x2="285.2" y2="416.65000000000003" stroke="#1c1c1c" stroke-width="1.5"/>
<line x1="280.8" y1="432.59999999999997" x2="285.2" y2="428.2" stroke="#1c1c1c" stroke-width="1.5"/>
<text x="279" y="427" font-family="Liberation Sans" font-size="8.5" font-weight="bold" font-style="italic" text-anchor="start" fill="#1c1c1c" transform="rotate(-90 279 427)">B</text>
<text x="345" y="400" font-family="Liberation Sans" font-size="10.290000000000001" font-weight="normal" font-style="normal" text-anchor="start" fill="#1c1c1c" stroke="#1c1c1c" stroke-width="0.3">29–29</text>
<rect x="313.6" y="418.4" width="98.0" height="11.600000000000023" fill="none" stroke="#1c1c1c" stroke-width="1.9"/>
<line x1="322" y1="425" x2="330" y2="425" stroke="#1c1c1c" stroke-width="1.375"/>
<circle cx="326" cy="425" r="2.0" fill="#1c1c1c"/>
<line x1="395" y1="424.4" x2="404" y2="424.4" stroke="#1c1c1c" stroke-width="1.375"/>
<circle cx="399" cy="424.4" r="2.0" fill="#1c1c1c"/>
<line x1="441" y1="413" x2="441" y2="433" stroke="#1c1c1c" stroke-width="1.25"/>
<line x1="415" y1="418" x2="446" y2="418" stroke="#1c1c1c" stroke-width="1.25"/>
<line x1="415" y1="429.6" x2="446" y2="429.6" stroke="#1c1c1c" stroke-width="1.25"/>
<line x1="438.8" y1="420.2" x2="443.2" y2="415.8" stroke="#1c1c1c" stroke-width="1.5"/>
<line x1="438.8" y1="431.8" x2="443.2" y2="427.40000000000003" stroke="#1c1c1c" stroke-width="1.5"/>
<text x="438" y="427" font-family="Liberation Sans" font-size="8.5" font-weight="bold" font-style="italic" text-anchor="start" fill="#1c1c1c" transform="rotate(-90 438 427)">B</text>
<text x="530" y="400.4" font-family="Liberation Sans" font-size="10.290000000000001" font-weight="normal" font-style="normal" text-anchor="start" fill="#1c1c1c" stroke="#1c1c1c" stroke-width="0.3">30–30</text>
<polygon points="495,423 501,418 588,418 594,423 589,428.6 500,428.6" fill="none" stroke="#1c1c1c" stroke-width="1.9" stroke-linejoin="round"/>
<line x1="504" y1="423" x2="512" y2="423" stroke="#1c1c1c" stroke-width="1.375"/>
<circle cx="508" cy="423" r="2.0" fill="#1c1c1c"/>
<line x1="579" y1="422.6" x2="587" y2="422.6" stroke="#1c1c1c" stroke-width="1.375"/>
<circle cx="583" cy="422.6" r="2.0" fill="#1c1c1c"/>
<line x1="623.6" y1="411" x2="623.6" y2="434" stroke="#1c1c1c" stroke-width="1.25"/>
<line x1="596" y1="417.2" x2="629" y2="417.2" stroke="#1c1c1c" stroke-width="1.25"/>
<line x1="598" y1="428" x2="631" y2="428" stroke="#1c1c1c" stroke-width="1.25"/>
<line x1="621.4" y1="419.4" x2="625.8000000000001" y2="415.0" stroke="#1c1c1c" stroke-width="1.5"/>
<line x1="621.4" y1="430.2" x2="625.8000000000001" y2="425.8" stroke="#1c1c1c" stroke-width="1.5"/>
<text x="620" y="426" font-family="Liberation Sans" font-size="8.5" font-weight="bold" font-style="italic" text-anchor="start" fill="#1c1c1c" transform="rotate(-90 620 426)">B</text>
<text x="188" y="487" font-family="Liberation Mono" font-size="12.5" font-weight="normal" font-style="normal" text-anchor="start" fill="#1c1c1c" stroke="#1c1c1c" stroke-width="0.2" textLength="36" lengthAdjust="spacingAndGlyphs">Рис.49</text>
<rect x="161.4" y="520.4" width="91.4" height="33.60000000000002" fill="none" stroke="#1c1c1c" stroke-width="1.9"/>
<rect x="161.4" y="535.9" width="91.4" height="2.5" fill="#999"/>
<line x1="161.4" y1="535.9" x2="252.8" y2="535.9" stroke="#1c1c1c" stroke-width="1.125"/>
<line x1="161.4" y1="538.4" x2="252.8" y2="538.4" stroke="#1c1c1c" stroke-width="1.125"/>
<line x1="165.1" y1="520.4" x2="165.1" y2="554" stroke="#1c1c1c" stroke-width="1.25"/>
<line x1="171.3" y1="520.4" x2="171.3" y2="554" stroke="#1c1c1c" stroke-width="1.375"/>
<line x1="180.6" y1="522" x2="180.6" y2="552" stroke="#1c1c1c" stroke-width="1.25"/>
<line x1="178.6" y1="522" x2="182.6" y2="522" stroke="#1c1c1c" stroke-width="1.25"/>
<line x1="178.6" y1="552" x2="182.6" y2="552" stroke="#1c1c1c" stroke-width="1.25"/>
<line x1="230.5" y1="522" x2="230.5" y2="552" stroke="#1c1c1c" stroke-width="1.25"/>
<line x1="228.5" y1="522" x2="232.5" y2="522" stroke="#1c1c1c" stroke-width="1.25"/>
<line x1="228.5" y1="552" x2="232.5" y2="552" stroke="#1c1c1c" stroke-width="1.25"/>
<line x1="240" y1="520.4" x2="240" y2="554" stroke="#1c1c1c" stroke-width="1.375"/>
<line x1="246.3" y1="520.4" x2="246.3" y2="554" stroke="#1c1c1c" stroke-width="1.25"/>
<line x1="186.9" y1="495.5" x2="186.9" y2="513.6" stroke="#1c1c1c" stroke-width="1.75"/>
<line x1="186.9" y1="500.8" x2="206" y2="500.8" stroke="#1c1c1c" stroke-width="1.5"/>
<polygon points="192.9,499.2 192.9,502.40000000000003 198.9,500.8" fill="#1c1c1c"/>
<text x="190" y="499" font-family="Liberation Sans" font-size="10" font-weight="bold" font-style="italic" text-anchor="start" fill="#1c1c1c" textLength="9.5" lengthAdjust="spacingAndGlyphs">31</text>
<line x1="186.9" y1="558.2" x2="186.9" y2="576.25" stroke="#1c1c1c" stroke-width="1.75"/>
<line x1="186.9" y1="569.9" x2="202.9" y2="569.9" stroke="#1c1c1c" stroke-width="1.5"/>
<polygon points="192.9,568.3 192.9,571.5 198.9,569.9" fill="#1c1c1c"/>
<text x="190" y="578" font-family="Liberation Sans" font-size="10" font-weight="bold" font-style="italic" text-anchor="start" fill="#1c1c1c" textLength="9.5" lengthAdjust="spacingAndGlyphs">31</text>
<text x="204" y="580" font-family="Liberation Sans" font-size="11" font-weight="bold" font-style="italic" text-anchor="start" fill="#1c1c1c" >L</text>
<line x1="144.4" y1="528.4" x2="144.4" y2="539.8" stroke="#1c1c1c" stroke-width="1.5"/>
<polygon points="142.6,536.8 146.20000000000002,536.8 144.4,544.8" fill="#1c1c1c"/>
<line x1="137" y1="544.8" x2="155" y2="544.8" stroke="#1c1c1c" stroke-width="1.625"/>
<text x="132.75" y="543" font-family="Liberation Sans" font-size="10.5" font-weight="bold" font-style="italic" text-anchor="start" fill="#1c1c1c" textLength="10" lengthAdjust="spacingAndGlyphs">32</text>
<line x1="265.6" y1="529" x2="265.6" y2="539.4" stroke="#1c1c1c" stroke-width="1.5"/>
<polygon points="263.8,536.4 267.40000000000003,536.4 265.6,544.4" fill="#1c1c1c"/>
<line x1="256" y1="544.4" x2="273" y2="544.4" stroke="#1c1c1c" stroke-width="1.625"/>
<text x="266.6" y="542" font-family="Liberation Sans" font-size="10.5" font-weight="bold" font-style="italic" text-anchor="start" fill="#1c1c1c" textLength="10" lengthAdjust="spacingAndGlyphs">32</text>
<line x1="157.8" y1="586.4" x2="257" y2="586.4" stroke="#1c1c1c" stroke-width="1.375"/>
<line x1="161.4" y1="557" x2="161.4" y2="591" stroke="#1c1c1c" stroke-width="1.25"/>
<line x1="253.4" y1="557" x2="253.4" y2="591" stroke="#1c1c1c" stroke-width="1.25"/>
<line x1="159.20000000000002" y1="588.6" x2="163.6" y2="584.1999999999999" stroke="#1c1c1c" stroke-width="1.5"/>
<line x1="251.20000000000002" y1="588.6" x2="255.6" y2="584.1999999999999" stroke="#1c1c1c" stroke-width="1.5"/>
<text x="337.8" y="488" font-family="Liberation Mono" font-size="12.5" font-weight="normal" font-style="normal" text-anchor="start" fill="#1c1c1c" stroke="#1c1c1c" stroke-width="0.2" textLength="36" lengthAdjust="spacingAndGlyphs">Рис.5O</text>
<rect x="312.3" y="520" width="99.0" height="32.89999999999998" fill="none" stroke="#1c1c1c" stroke-width="1.9"/>
<rect x="312.3" y="535.9" width="99" height="2.3" fill="#999"/>
<line x1="312.3" y1="535.9" x2="411.3" y2="535.9" stroke="#1c1c1c" stroke-width="1.125"/>
<line x1="312.3" y1="538.2" x2="411.3" y2="538.2" stroke="#1c1c1c" stroke-width="1.125"/>
<line x1="315.8" y1="520" x2="315.8" y2="552.9" stroke="#1c1c1c" stroke-width="1.25"/>
<line x1="323" y1="520" x2="323" y2="552.9" stroke="#1c1c1c" stroke-width="1.25"/>
<line x1="334.8" y1="522" x2="334.8" y2="551" stroke="#1c1c1c" stroke-width="1.25"/>
<line x1="332.8" y1="522" x2="336.8" y2="522" stroke="#1c1c1c" stroke-width="1.25"/>
<line x1="332.8" y1="551" x2="336.8" y2="551" stroke="#1c1c1c" stroke-width="1.25"/>
<line x1="388.4" y1="522" x2="388.4" y2="551" stroke="#1c1c1c" stroke-width="1.25"/>
<line x1="386.4" y1="522" x2="390.4" y2="522" stroke="#1c1c1c" stroke-width="1.25"/>
<line x1="386.4" y1="551" x2="390.4" y2="551" stroke="#1c1c1c" stroke-width="1.25"/>
<line x1="398.4" y1="520" x2="398.4" y2="552.9" stroke="#1c1c1c" stroke-width="1.25"/>
<line x1="405" y1="520" x2="405" y2="552.9" stroke="#1c1c1c" stroke-width="1.25"/>
<line x1="339.5" y1="495.5" x2="339.5" y2="513.6" stroke="#1c1c1c" stroke-width="1.75"/>
<line x1="339.5" y1="499.75" x2="357.6" y2="499.75" stroke="#1c1c1c" stroke-width="1.5"/>
<polygon points="345.5,498.15 345.5,501.35 351.5,499.75" fill="#1c1c1c"/>
<text x="343.75" y="499" font-family="Liberation Sans" font-size="10" font-weight="bold" font-style="italic" text-anchor="start" fill="#1c1c1c" textLength="9.5" lengthAdjust="spacingAndGlyphs">31</text>
<line x1="339.5" y1="557" x2="339.5" y2="574" stroke="#1c1c1c" stroke-width="1.75"/>
<line x1="339.5" y1="568.8" x2="356" y2="568.8" stroke="#1c1c1c" stroke-width="1.5"/>
<polygon points="345.5,567.1999999999999 345.5,570.4 351.5,568.8" fill="#1c1c1c"/>
<text x="341" y="578" font-family="Liberation Sans" font-size="10" font-weight="bold" font-style="italic" text-anchor="start" fill="#1c1c1c" textLength="9.5" lengthAdjust="spacingAndGlyphs">31</text>
<line x1="297" y1="527.4" x2="297" y2="539.4" stroke="#1c1c1c" stroke-width="1.5"/>
<polygon points="295.2,536.4 298.8,536.4 297,544.4" fill="#1c1c1c"/>
<line x1="286.4" y1="544.4" x2="308.7" y2="544.4" stroke="#1c1c1c" stroke-width="1.625"/>
<text x="285.3" y="543" font-family="Liberation Sans" font-size="10.5" font-weight="bold" font-style="italic" text-anchor="start" fill="#1c1c1c" textLength="10" lengthAdjust="spacingAndGlyphs">33</text>
<line x1="429.8" y1="528" x2="429.8" y2="539.4" stroke="#1c1c1c" stroke-width="1.5"/>
<polygon points="428.0,536.4 431.6,536.4 429.8,544.4" fill="#1c1c1c"/>
<line x1="416" y1="544.4" x2="433" y2="544.4" stroke="#1c1c1c" stroke-width="1.625"/>
<text x="432" y="543" font-family="Liberation Sans" font-size="10.5" font-weight="bold" font-style="italic" text-anchor="start" fill="#1c1c1c" textLength="10" lengthAdjust="spacingAndGlyphs">33</text>
<line x1="308.7" y1="585.8" x2="417" y2="585.8" stroke="#1c1c1c" stroke-width="1.375"/>
<line x1="312.3" y1="558" x2="312.3" y2="590" stroke="#1c1c1c" stroke-width="1.25"/>
<line x1="412.8" y1="558" x2="412.8" y2="590" stroke="#1c1c1c" stroke-width="1.25"/>
<line x1="310.1" y1="588.0" x2="314.5" y2="583.5999999999999" stroke="#1c1c1c" stroke-width="1.5"/>
<line x1="410.6" y1="588.0" x2="415.0" y2="583.5999999999999" stroke="#1c1c1c" stroke-width="1.5"/>
<text x="361.8" y="583" font-family="Liberation Sans" font-size="11" font-weight="bold" font-style="italic" text-anchor="start" fill="#1c1c1c" >L</text>
<text x="487.8" y="488" font-family="Liberation Serif" font-size="10.5" font-weight="normal" font-style="normal" text-anchor="start" fill="#1c1c1c" stroke="#1c1c1c" stroke-width="0.3" textLength="28" lengthAdjust="spacingAndGlyphs">3I–3I</text>
<rect x="495" y="519.1" width="11.800000000000011" height="33.0" fill="none" stroke="#1c1c1c" stroke-width="1.9"/>
<line x1="495" y1="535" x2="506.8" y2="535" stroke="#1c1c1c" stroke-width="2.75"/>
<line x1="542.1" y1="513.9" x2="542.1" y2="554.6" stroke="#1c1c1c" stroke-width="1.25"/>
<line x1="511.7" y1="518.8" x2="546.7" y2="518.8" stroke="#1c1c1c" stroke-width="1.25"/>
<line x1="511.7" y1="552" x2="547.5" y2="552" stroke="#1c1c1c" stroke-width="1.25"/>
<line x1="539.9" y1="521.0" x2="544.3000000000001" y2="516.5999999999999" stroke="#1c1c1c" stroke-width="1.5"/>
<line x1="539.9" y1="554.2" x2="544.3000000000001" y2="549.8" stroke="#1c1c1c" stroke-width="1.5"/>
<text x="540" y="537" font-family="Liberation Sans" font-size="8.5" font-weight="bold" font-style="italic" text-anchor="start" fill="#1c1c1c" transform="rotate(-90 540 537)">h</text>
<line x1="495" y1="559.4" x2="495" y2="587" stroke="#1c1c1c" stroke-width="1.25"/>
<line x1="506.5" y1="559.4" x2="506.5" y2="587" stroke="#1c1c1c" stroke-width="1.25"/>
<line x1="489.75" y1="584.6" x2="512.5" y2="584.6" stroke="#1c1c1c" stroke-width="1.25"/>
<line x1="492.8" y1="586.8000000000001" x2="497.2" y2="582.4" stroke="#1c1c1c" stroke-width="1.25"/>
<line x1="504.3" y1="586.8000000000001" x2="508.7" y2="582.4" stroke="#1c1c1c" stroke-width="1.25"/>
<text x="498.7" y="583" font-family="Liberation Sans" font-size="9.5" font-weight="bold" font-style="italic" text-anchor="start" fill="#1c1c1c" >B</text>
<text x="595.4" y="487" font-family="Liberation Sans" font-size="10.290000000000001" font-weight="normal" font-style="normal" text-anchor="start" fill="#1c1c1c" stroke="#1c1c1c" stroke-width="0.3">37–37</text>
<rect x="599.5" y="517.5" width="23.600000000000023" height="23.200000000000045" fill="none" stroke="#1c1c1c" stroke-width="1.9"/>
<line x1="599.5" y1="545.6" x2="599.5" y2="571.6" stroke="#1c1c1c" stroke-width="1.25"/>
<line x1="623.1" y1="545.6" x2="623.1" y2="571.6" stroke="#1c1c1c" stroke-width="1.25"/>
<line x1="597" y1="571.6" x2="624.7" y2="571.6" stroke="#1c1c1c" stroke-width="1.375"/>
<line x1="597.3" y1="573.8000000000001" x2="601.7" y2="569.4" stroke="#1c1c1c" stroke-width="1.25"/>
<line x1="620.9" y1="573.8000000000001" x2="625.3000000000001" y2="569.4" stroke="#1c1c1c" stroke-width="1.25"/>
<text x="607.6" y="569.5" font-family="Liberation Sans" font-size="11" font-weight="bold" font-style="italic" text-anchor="start" fill="#1c1c1c" >L</text>
<line x1="616.6" y1="492.5" x2="616.6" y2="510" stroke="#1c1c1c" stroke-width="1.875"/>
<line x1="616.6" y1="499.3" x2="638.5" y2="499.3" stroke="#1c1c1c" stroke-width="1.375"/>
<polygon points="619.5,499.3 628,497.4 628,501.2" fill="#1c1c1c"/>
<line x1="616.6" y1="578" x2="616.6" y2="595.2" stroke="#1c1c1c" stroke-width="1.75"/>
<line x1="616.6" y1="589.5" x2="633.7" y2="589.5" stroke="#1c1c1c" stroke-width="1.375"/>
<polygon points="619.5,589.5 628,587.6 628,591.4" fill="#1c1c1c"/>
<text x="188.4" y="622.5" font-family="Liberation Sans" font-size="10.290000000000001" font-weight="normal" font-style="normal" text-anchor="start" fill="#1c1c1c" stroke="#1c1c1c" stroke-width="0.3">32–32</text>
<polygon points="161.25,645.4 167.8,640.3 240,640.3 252.2,646 246.6,651 171.6,651" fill="none" stroke="#1c1c1c" stroke-width="1.9" stroke-linejoin="round"/>
<line x1="180" y1="646.5" x2="188" y2="646.5" stroke="#1c1c1c" stroke-width="1.375"/>
<circle cx="183.75" cy="646.5" r="2.0" fill="#1c1c1c"/>
<line x1="227" y1="646.5" x2="235" y2="646.5" stroke="#1c1c1c" stroke-width="1.375"/>
<circle cx="230.6" cy="646.5" r="2.0" fill="#1c1c1c"/>
<line x1="280.3" y1="634.7" x2="280.3" y2="656.25" stroke="#1c1c1c" stroke-width="1.25"/>
<line x1="254" y1="640.3" x2="285" y2="640.3" stroke="#1c1c1c" stroke-width="1.25"/>
<line x1="257" y1="651" x2="285" y2="651" stroke="#1c1c1c" stroke-width="1.25"/>
<line x1="278.1" y1="642.5" x2="282.5" y2="638.0999999999999" stroke="#1c1c1c" stroke-width="1.5"/>
<line x1="278.1" y1="653.2" x2="282.5" y2="648.8" stroke="#1c1c1c" stroke-width="1.5"/>
<text x="277" y="649" font-family="Liberation Sans" font-size="8.5" font-weight="bold" font-style="italic" text-anchor="start" fill="#1c1c1c" transform="rotate(-90 277 649)">B</text>
<text x="344" y="623.4" font-family="Liberation Sans" font-size="10.290000000000001" font-weight="normal" font-style="normal" text-anchor="start" fill="#1c1c1c" stroke="#1c1c1c" stroke-width="0.3">33–33</text>
<polygon points="313.1,646.9 323.4,640.3 404,640.3 410.25,644.6 398.4,650.6 316.9,650.6" fill="none" stroke="#1c1c1c" stroke-width="1.9" stroke-linejoin="round"/>
<line x1="331" y1="646" x2="341" y2="646" stroke="#1c1c1c" stroke-width="1.375"/>
<circle cx="335.6" cy="646" r="1.3" fill="#1c1c1c"/>
<line x1="383" y1="646" x2="391" y2="646" stroke="#1c1c1c" stroke-width="1.375"/>
<circle cx="387.2" cy="646" r="1.8" fill="#1c1c1c"/>
<line x1="438.75" y1="635.6" x2="438.75" y2="653.4" stroke="#1c1c1c" stroke-width="1.25"/>
<line x1="412.5" y1="640.3" x2="443.4" y2="640.3" stroke="#1c1c1c" stroke-width="1.25"/>
<line x1="413" y1="650.6" x2="444.4" y2="650.6" stroke="#1c1c1c" stroke-width="1.25"/>
<line x1="436.55" y1="642.5" x2="440.95" y2="638.0999999999999" stroke="#1c1c1c" stroke-width="1.5"/>
<line x1="436.55" y1="652.8000000000001" x2="440.95" y2="648.4" stroke="#1c1c1c" stroke-width="1.5"/>
<text x="436" y="648" font-family="Liberation Sans" font-size="8.5" font-weight="bold" font-style="italic" text-anchor="start" fill="#1c1c1c" transform="rotate(-90 436 648)">B</text>
<text x="522.2" y="624" font-family="Liberation Mono" font-size="12.5" font-weight="normal" font-style="normal" text-anchor="start" fill="#1c1c1c" stroke="#1c1c1c" stroke-width="0.2" textLength="36" lengthAdjust="spacingAndGlyphs">Рис.5I</text>
<rect x="495" y="637.8" width="94.70000000000005" height="11.900000000000091" fill="none" stroke="#1c1c1c" stroke-width="1.9"/>
<text x="180.6" y="681" font-family="Liberation Mono" font-size="12.5" font-weight="normal" font-style="normal" text-anchor="start" fill="#1c1c1c" stroke="#1c1c1c" stroke-width="0.2" textLength="36" lengthAdjust="spacingAndGlyphs">Рис.52</text>
<rect x="161.4" y="701.1" width="92.0" height="10.0" fill="none" stroke="#1c1c1c" stroke-width="1.9"/>
<line x1="164.6" y1="702" x2="164.6" y2="710" stroke="#1c1c1c" stroke-width="1.125"/>
<line x1="171" y1="701.1" x2="171" y2="711.1" stroke="#1c1c1c" stroke-width="1.375"/>
<line x1="239" y1="701.1" x2="239" y2="711.1" stroke="#1c1c1c" stroke-width="1.25"/>
<line x1="245.4" y1="701.1" x2="245.4" y2="711.1" stroke="#1c1c1c" stroke-width="1.375"/>
<line x1="140.2" y1="682.75" x2="140.2" y2="694.75" stroke="#1c1c1c" stroke-width="1.5"/>
<polygon points="138.39999999999998,685.75 142.0,685.75 140.2,677.75" fill="#1c1c1c"/>
<line x1="133.8" y1="694.75" x2="151.9" y2="694.75" stroke="#1c1c1c" stroke-width="1.625"/>
<text x="129.6" y="692" font-family="Liberation Sans" font-size="10.5" font-weight="bold" font-style="italic" text-anchor="start" fill="#1c1c1c" textLength="10" lengthAdjust="spacingAndGlyphs">34</text>
<line x1="273" y1="682" x2="273" y2="694.75" stroke="#1c1c1c" stroke-width="1.5"/>
<polygon points="271.2,685 274.8,685 273,677" fill="#1c1c1c"/>
<line x1="259.2" y1="694.75" x2="280.4" y2="694.75" stroke="#1c1c1c" stroke-width="1.625"/>
<text x="276" y="692" font-family="Liberation Sans" font-size="10.5" font-weight="bold" font-style="italic" text-anchor="start" fill="#1c1c1c" textLength="10" lengthAdjust="spacingAndGlyphs">34</text>
<line x1="158.25" y1="737.25" x2="256" y2="737.25" stroke="#1c1c1c" stroke-width="1.375"/>
<line x1="161.4" y1="716" x2="161.4" y2="740.4" stroke="#1c1c1c" stroke-width="1.25"/>
<line x1="253.4" y1="716" x2="253.4" y2="740.4" stroke="#1c1c1c" stroke-width="1.25"/>
<line x1="159.20000000000002" y1="739.45" x2="163.6" y2="735.05" stroke="#1c1c1c" stroke-width="1.5"/>
<line x1="251.20000000000002" y1="739.45" x2="255.6" y2="735.05" stroke="#1c1c1c" stroke-width="1.5"/>
<text x="197.6" y="735" font-family="Liberation Sans" font-size="11" font-weight="bold" font-style="italic" text-anchor="start" fill="#1c1c1c" >L</text>
<text x="342.7" y="683" font-family="Liberation Mono" font-size="12.5" font-weight="normal" font-style="normal" text-anchor="start" fill="#1c1c1c" stroke="#1c1c1c" stroke-width="0.2" textLength="36" lengthAdjust="spacingAndGlyphs">Рис.53</text>
<rect x="311.4" y="700.7" width="99.30000000000001" height="10.599999999999909" fill="none" stroke="#1c1c1c" stroke-width="1.9"/>
<line x1="315" y1="700.7" x2="315" y2="711.3" stroke="#1c1c1c" stroke-width="1.375"/>
<line x1="322.5" y1="702" x2="322.5" y2="710" stroke="#1c1c1c" stroke-width="0.9" stroke-dasharray="5 2.5"/>
<line x1="398" y1="700.7" x2="398" y2="711.3" stroke="#1c1c1c" stroke-width="1.375"/>
<line x1="406.4" y1="700.7" x2="406.4" y2="711.3" stroke="#1c1c1c" stroke-width="1.375"/>
<line x1="297.4" y1="681.7" x2="297.4" y2="694.3" stroke="#1c1c1c" stroke-width="1.5"/>
<polygon points="295.59999999999997,684.7 299.2,684.7 297.4,676.7" fill="#1c1c1c"/>
<line x1="291.7" y1="694.3" x2="308.7" y2="694.3" stroke="#1c1c1c" stroke-width="1.625"/>
<text x="288.5" y="692" font-family="Liberation Sans" font-size="10.5" font-weight="bold" font-style="italic" text-anchor="start" fill="#1c1c1c" textLength="10" lengthAdjust="spacingAndGlyphs">35</text>
<line x1="428.75" y1="681" x2="428.75" y2="693.7" stroke="#1c1c1c" stroke-width="1.5"/>
<polygon points="426.95,684 430.55,684 428.75,676" fill="#1c1c1c"/>
<line x1="416" y1="693.7" x2="433" y2="693.7" stroke="#1c1c1c" stroke-width="1.625"/>
<text x="432" y="691" font-family="Liberation Sans" font-size="10.5" font-weight="bold" font-style="italic" text-anchor="start" fill="#1c1c1c" textLength="10" lengthAdjust="spacingAndGlyphs">35</text>
<line x1="307.6" y1="738.3" x2="413.9" y2="738.3" stroke="#1c1c1c" stroke-width="1.375"/>
<line x1="311.4" y1="715" x2="311.4" y2="740" stroke="#1c1c1c" stroke-width="1.25"/>
<line x1="410.7" y1="715" x2="410.7" y2="740" stroke="#1c1c1c" stroke-width="1.25"/>
<line x1="309.2" y1="740.5" x2="313.59999999999997" y2="736.0999999999999" stroke="#1c1c1c" stroke-width="1.5"/>
<line x1="408.5" y1="740.5" x2="412.9" y2="736.0999999999999" stroke="#1c1c1c" stroke-width="1.5"/>
<text x="357" y="736" font-family="Liberation Sans" font-size="11" font-weight="bold" font-style="italic" text-anchor="start" fill="#1c1c1c" >L</text>
<text x="520.6" y="683" font-family="Liberation Mono" font-size="12.5" font-weight="normal" font-style="normal" text-anchor="start" fill="#1c1c1c" stroke="#1c1c1c" stroke-width="0.2" textLength="36" lengthAdjust="spacingAndGlyphs">Рис.54</text>
<rect x="494" y="699.4" width="95.20000000000005" height="11.300000000000068" fill="none" stroke="#1c1c1c" stroke-width="1.9"/>
<line x1="497.8" y1="701" x2="497.8" y2="709" stroke="#1c1c1c" stroke-width="1.125"/>
<line x1="502.5" y1="699.4" x2="502.5" y2="710.7" stroke="#1c1c1c" stroke-width="1.375"/>
<line x1="580" y1="699.4" x2="580" y2="710.7" stroke="#1c1c1c" stroke-width="1.375"/>
<line x1="585.4" y1="701" x2="585.4" y2="709" stroke="#1c1c1c" stroke-width="1.125"/>
<line x1="477" y1="681.7" x2="477" y2="692.6" stroke="#1c1c1c" stroke-width="1.5"/>
<polygon points="475.2,684.7 478.8,684.7 477,676.7" fill="#1c1c1c"/>
<line x1="471.7" y1="692.6" x2="489.75" y2="692.6" stroke="#1c1c1c" stroke-width="1.625"/>
<text x="466.4" y="691" font-family="Liberation Sans" font-size="10.5" font-weight="bold" font-style="italic" text-anchor="start" fill="#1c1c1c" textLength="10" lengthAdjust="spacingAndGlyphs">36</text>
<line x1="609.8" y1="681" x2="609.8" y2="692.6" stroke="#1c1c1c" stroke-width="1.5"/>
<polygon points="608.0,684 611.5999999999999,684 609.8,676" fill="#1c1c1c"/>
<line x1="596" y1="692.6" x2="612" y2="692.6" stroke="#1c1c1c" stroke-width="1.625"/>
<text x="612" y="690" font-family="Liberation Sans" font-size="10.5" font-weight="bold" font-style="italic" text-anchor="start" fill="#1c1c1c" textLength="10" lengthAdjust="spacingAndGlyphs">36</text>
<line x1="490.8" y1="735.1" x2="596" y2="735.1" stroke="#1c1c1c" stroke-width="1.375"/>
<line x1="494" y1="715" x2="494" y2="739.4" stroke="#1c1c1c" stroke-width="1.25"/>
<line x1="589.2" y1="715" x2="589.2" y2="739.4" stroke="#1c1c1c" stroke-width="1.25"/>
<line x1="491.8" y1="737.3000000000001" x2="496.2" y2="732.9" stroke="#1c1c1c" stroke-width="1.5"/>
<line x1="587.0" y1="737.3000000000001" x2="591.4000000000001" y2="732.9" stroke="#1c1c1c" stroke-width="1.5"/>
<text x="545" y="733" font-family="Liberation Sans" font-size="11" font-weight="bold" font-style="italic" text-anchor="start" fill="#1c1c1c" >L</text>
<text x="187.5" y="759.7" font-family="Liberation Sans" font-size="10.290000000000001" font-weight="normal" font-style="normal" text-anchor="start" fill="#1c1c1c" stroke="#1c1c1c" stroke-width="0.3">34–34</text>
<polygon points="160.3,776.6 166,772.25 238,772.8 252.2,778.4 245.6,782.2 172.5,782.75" fill="none" stroke="#1c1c1c" stroke-width="1.9" stroke-linejoin="round"/>
<line x1="280.3" y1="767.75" x2="280.3" y2="786" stroke="#1c1c1c" stroke-width="1.25"/>
<line x1="252" y1="772.25" x2="285" y2="772.25" stroke="#1c1c1c" stroke-width="1.25"/>
<line x1="252" y1="782.75" x2="285" y2="782.75" stroke="#1c1c1c" stroke-width="1.25"/>
<line x1="278.1" y1="774.45" x2="282.5" y2="770.05" stroke="#1c1c1c" stroke-width="1.5"/>
<line x1="278.1" y1="784.95" x2="282.5" y2="780.55" stroke="#1c1c1c" stroke-width="1.5"/>
<text x="277" y="780" font-family="Liberation Sans" font-size="8.5" font-weight="bold" font-style="italic" text-anchor="start" fill="#1c1c1c" transform="rotate(-90 277 780)">B</text>
<text x="342.75" y="760" font-family="Liberation Sans" font-size="10.290000000000001" font-weight="normal" font-style="normal" text-anchor="start" fill="#1c1c1c" stroke="#1c1c1c" stroke-width="0.3">35–35</text>
<polygon points="311.25,778.4 317.8,772.25 406,772.25 409.7,775.6 401.25,782.75 316,782.75" fill="none" stroke="#1c1c1c" stroke-width="1.9" stroke-linejoin="round"/>
<line x1="438.75" y1="764.4" x2="438.75" y2="786.9" stroke="#1c1c1c" stroke-width="1.25"/>
<line x1="412.5" y1="772.25" x2="444.4" y2="772.25" stroke="#1c1c1c" stroke-width="1.25"/>
<line x1="412.5" y1="782.75" x2="444.4" y2="782.75" stroke="#1c1c1c" stroke-width="1.25"/>
<line x1="436.55" y1="774.45" x2="440.95" y2="770.05" stroke="#1c1c1c" stroke-width="1.5"/>
<line x1="436.55" y1="784.95" x2="440.95" y2="780.55" stroke="#1c1c1c" stroke-width="1.5"/>
<text x="436" y="780" font-family="Liberation Sans" font-size="8.5" font-weight="bold" font-style="italic" text-anchor="start" fill="#1c1c1c" transform="rotate(-90 436 780)">B</text>
<text x="522.2" y="760.6" font-family="Liberation Sans" font-size="10.290000000000001" font-weight="normal" font-style="normal" text-anchor="start" fill="#1c1c1c" stroke="#1c1c1c" stroke-width="0.3">36–36</text>
<polygon points="494,775.25 499.7,770 585,770 588.75,774.7 583.1,781.25 498.75,781.25" fill="none" stroke="#1c1c1c" stroke-width="1.9" stroke-linejoin="round"/>
<line x1="616" y1="764.4" x2="616" y2="786.9" stroke="#1c1c1c" stroke-width="1.25"/>
<line x1="589.7" y1="770.4" x2="619.7" y2="770.4" stroke="#1c1c1c" stroke-width="1.25"/>
<line x1="589.7" y1="781.25" x2="619.7" y2="781.25" stroke="#1c1c1c" stroke-width="1.25"/>
<line x1="613.8" y1="772.6" x2="618.2" y2="768.1999999999999" stroke="#1c1c1c" stroke-width="1.5"/>
<line x1="613.8" y1="783.45" x2="618.2" y2="779.05" stroke="#1c1c1c" stroke-width="1.5"/>
<text x="613" y="778" font-family="Liberation Sans" font-size="8.5" font-weight="bold" font-style="italic" text-anchor="start" fill="#1c1c1c" transform="rotate(-90 613 778)">B</text>
</svg></body></html>
